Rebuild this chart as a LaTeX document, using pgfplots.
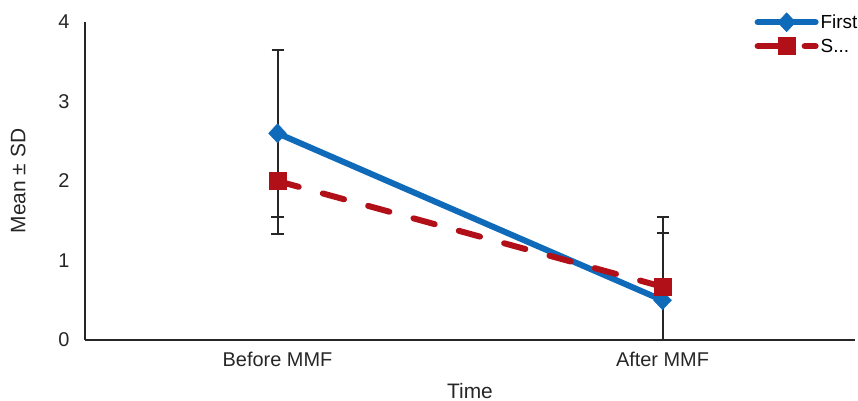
\documentclass[border=0pt]{standalone}
\usepackage{fontspec}
\setmainfont{Liberation Sans}
\usepackage{pgfplots}
\pgfplotsset{compat=1.18}
\definecolor{cblue}{RGB}{15,106,185}
\definecolor{cred}{RGB}{178,16,24}
\begin{document}
\begin{tikzpicture}
\path[use as bounding box] (-85bp,-61bp) rectangle (773bp,340bp);
\begin{axis}[
  at={(0,0)}, anchor=south west,
  scale only axis, width=770bp, height=318bp,
  xmin=-0.5, xmax=1.5, ymin=0, ymax=4,
  xtick={0,1}, xticklabels={Before MMF, After MMF},
  ytick={0,1,2,3,4},
  axis x line*=bottom, axis y line*=left,
  axis line style={line width=1.2bp, black!85},
  major tick length=0pt,
  tick label style={font=\fontsize{20}{24}\selectfont, text=black!85},
  /pgf/number format/assume math mode=true,
  xticklabel style={yshift=-9bp},
  yticklabel style={xshift=-12bp},
  xlabel={Time}, ylabel={Mean ± SD},
  label style={font=\fontsize{21}{25}\selectfont, text=black!85},
  xlabel style={yshift=-9bp},
  ylabel style={yshift=26bp},
  clip mode=individual,
  legend style={draw=none, fill=none, at={(1.006,1.03)}, anchor=north east,
    font=\fontsize{19}{22}\selectfont, row sep=5bp, inner sep=0pt,
    /tikz/every even column/.append style={column sep=2bp}},
  legend cell align=left,
  legend image code/.code={
    \draw[#1, mark=none] (0bp,0bp) -- (58bp,0bp);
    \draw[#1, only marks] plot coordinates {(29bp,0bp)};
  },
  errstyle/.style={forget plot, only marks, mark size=0.1pt, black,
    error bars/.cd, y dir=#1, y explicit,
    error bar style={line width=2bp, black!85},
    error mark options={line width=2bp, black!85, mark size=6bp, rotate=90}},
]
% error bars (drawn first, beneath lines and markers)
\addplot[errstyle=both] coordinates {(0,2.6) +- (0,1.05) (1,0.5) +- (0,1.05)};
\addplot[errstyle=minus] coordinates {(0,2.0) +- (0,0.67)};
\addplot[errstyle=both] coordinates {(1,0.67) +- (0,0.67)};
% series
\addplot[cblue, line width=6bp, line cap=round, mark=diamond*, mark size=9.5bp,
  mark options={solid, line width=0.5bp, fill=cblue, xscale=1.25}]
  coordinates {(0,2.6) (1,0.5)};
\addlegendentry{First}
\addplot[cred, line width=6bp, line cap=round, dash pattern=on 22bp off 25bp,
  mark=square*, mark size=8.5bp,
  mark options={solid, line width=0.5bp, fill=cred}]
  coordinates {(0,2.0) (1,0.67)};
\addlegendentry{S...}
\end{axis}
\end{tikzpicture}
\end{document}
